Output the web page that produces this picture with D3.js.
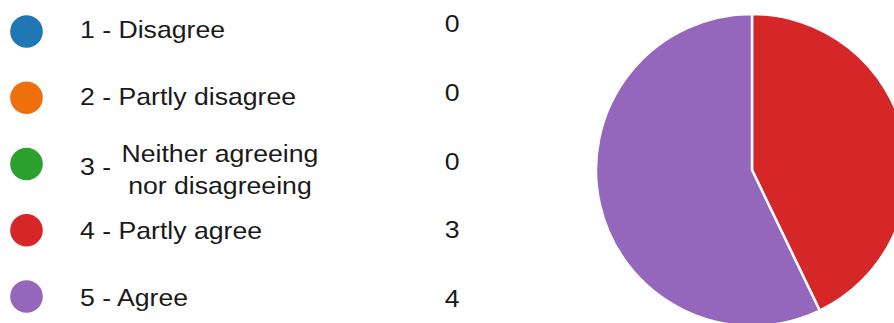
<!DOCTYPE html>
<html>
<head>
<meta charset="utf-8">
<script src="https://cdn.jsdelivr.net/npm/d3@7"></script>
<style>
  html, body { margin: 0; padding: 0; background: #fff; overflow: hidden; }
  text { font-family: "Liberation Sans", Arial, sans-serif; fill: #1a1a1a; }
</style>
</head>
<body>
<svg id="chart" width="894" height="323"></svg>
<script>
const categories = ["1 - Disagree", "2 - Partly disagree", "3 - Neither agreeing nor disagreeing", "4 - Partly agree", "5 - Agree"];
const counts = [0, 0, 0, 3, 4];
const colors = ["#1f77b4", "#ef6f0c", "#2ca02c", "#d62728", "#9467bd"];

const W = 894, H = 323;
const svg = d3.select("#chart");
const FS = 24, SX = 1.11;

// legend layout scales
const yCircle = d3.scalePoint().domain(categories).range([31.5, 296.5]);
const yLabel = d3.scalePoint().domain(categories).range([37.7, 306]);
const yCount = d3.scalePoint().domain(categories).range([32, 307]);
const color = d3.scaleOrdinal().domain(categories).range(colors);

const legend = svg.append("g");
categories.forEach((cat, i) => {
  const cy = yCircle(cat);
  legend.append("circle")
    .attr("cx", 26.5).attr("cy", cy).attr("r", 16.3)
    .attr("fill", color(cat));

  const parts = cat.split(" - ");
  const full = legend.append("g").attr("transform", `translate(80,${yLabel(cat)}) scale(${SX},1)`);
  const t = full.append("text").attr("font-size", FS).text(cat);
  const maxW = 210;
  if (t.node().getComputedTextLength() * SX > maxW + 60) {
    t.remove();
    // prefix
    full.append("text").attr("font-size", FS).attr("y", 3).text(parts[0] + " -");
    // wrap the rest into lines
    const words = parts.slice(1).join(" - ").split(" ");
    const meas = full.append("text").attr("font-size", FS);
    const lines = [];
    let cur = [];
    words.forEach(w => {
      const trial = cur.concat([w]).join(" ");
      meas.text(trial);
      if (meas.node().getComputedTextLength() * SX > maxW && cur.length) {
        lines.push(cur.join(" "));
        cur = [w];
      } else cur.push(w);
    });
    if (cur.length) lines.push(cur.join(" "));
    let widest = 0;
    lines.forEach(l => { meas.text(l); widest = Math.max(widest, meas.node().getComputedTextLength()); });
    meas.remove();
    const prefixW = full.select("text").node().getComputedTextLength();
    const cx = prefixW + 0.278 * FS + 3 / SX + widest / 2;
    const lh = 32;
    lines.forEach((l, k) => {
      full.append("text").attr("font-size", FS)
        .attr("text-anchor", "middle")
        .attr("x", cx)
        .attr("y", -10 + k * lh)
        .text(l);
    });
  }

  legend.append("g").attr("transform", `translate(459.5,${yCount(cat)}) scale(${SX},1)`)
    .append("text").attr("font-size", FS).attr("text-anchor", "end")
    .text(counts[i]);
});

// pie
const pieData = categories.map((c, i) => ({ cat: c, value: counts[i] }));
const pie = d3.pie().sort(null).value(d => d.value);
const arc = d3.arc().innerRadius(0).outerRadius(156);
const pg = svg.append("g").attr("transform", "translate(752,170)");
pg.selectAll("path")
  .data(pie(pieData).filter(d => d.data.value > 0))
  .join("path")
  .attr("d", arc)
  .attr("fill", d => color(d.data.cat))
  .attr("stroke", "#fff")
  .attr("stroke-width", 2.5)
  .attr("stroke-linejoin", "round");
</script>
</body>
</html>
